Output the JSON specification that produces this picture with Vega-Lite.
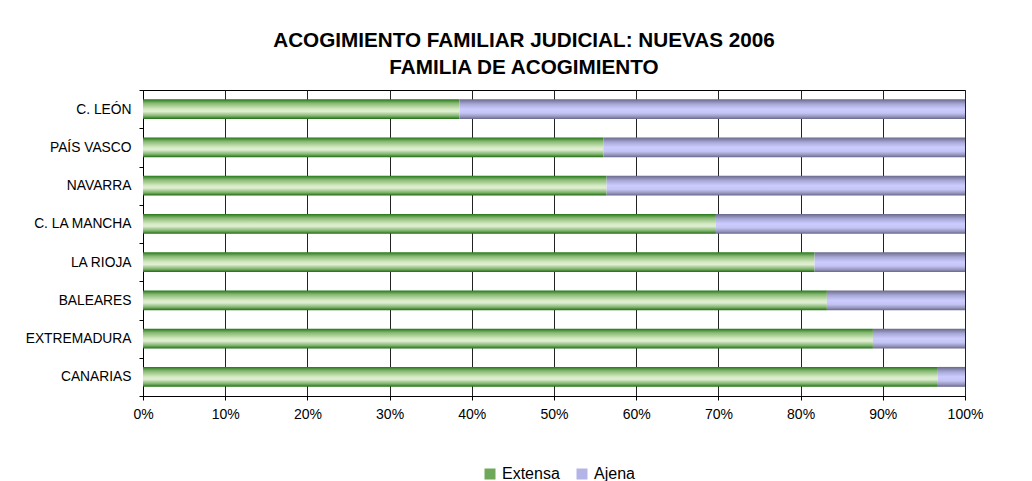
{
  "$schema": "https://vega.github.io/schema/vega-lite/v6.json",
  "width": 822,
  "height": 306,
  "autosize": "none",
  "padding": {"left": 143, "top": 90, "right": 67, "bottom": 85},
  "background": "white",
  "title": {
    "text": ["ACOGIMIENTO FAMILIAR JUDICIAL: NUEVAS 2006", "FAMILIA DE ACOGIMIENTO"],
    "font": "Liberation Sans",
    "fontSize": 20.7,
    "fontWeight": "bold",
    "color": "#000",
    "lineHeight": 27,
    "anchor": "middle",
    "baseline": "bottom",
    "dx": -30,
    "offset": -16
  },
  "data": {
    "values": [
      {"region": "C. LEÓN", "series": "Extensa", "pct": 38.5},
      {"region": "C. LEÓN", "series": "Ajena", "pct": 61.5},
      {"region": "PAÍS VASCO", "series": "Extensa", "pct": 56.0},
      {"region": "PAÍS VASCO", "series": "Ajena", "pct": 44.0},
      {"region": "NAVARRA", "series": "Extensa", "pct": 56.4},
      {"region": "NAVARRA", "series": "Ajena", "pct": 43.6},
      {"region": "C. LA MANCHA", "series": "Extensa", "pct": 69.7},
      {"region": "C. LA MANCHA", "series": "Ajena", "pct": 30.3},
      {"region": "LA RIOJA", "series": "Extensa", "pct": 81.7},
      {"region": "LA RIOJA", "series": "Ajena", "pct": 18.3},
      {"region": "BALEARES", "series": "Extensa", "pct": 83.2},
      {"region": "BALEARES", "series": "Ajena", "pct": 16.8},
      {"region": "EXTREMADURA", "series": "Extensa", "pct": 88.8},
      {"region": "EXTREMADURA", "series": "Ajena", "pct": 11.2},
      {"region": "CANARIAS", "series": "Extensa", "pct": 96.7},
      {"region": "CANARIAS", "series": "Ajena", "pct": 3.3}
    ]
  },
  "transform": [
    {"stack": "pct", "groupby": ["region"], "sort": [{"field": "series", "order": "descending"}], "offset": "normalize", "as": ["x0", "x1"]}
  ],
  "encoding": {
    "y": {
      "field": "region",
      "type": "nominal",
      "sort": ["C. LEÓN", "PAÍS VASCO", "NAVARRA", "C. LA MANCHA", "LA RIOJA", "BALEARES", "EXTREMADURA", "CANARIAS"],
      "scale": {"paddingInner": 0, "paddingOuter": 0},
      "axis": {
        "title": null,
        "tickBand": "extent",
        "tickSize": 4,
        "tickColor": "#000",
        "domainColor": "#000",
        "labelFont": "Liberation Sans",
        "labelFontSize": 13.8,
        "labelColor": "#000",
        "labelPadding": 8,
        "grid": false
      }
    },
    "x": {
      "field": "x0",
      "type": "quantitative",
      "scale": {"domain": [0, 1], "nice": false},
      "axis": {
        "title": null,
        "format": ".0%",
        "values": [0, 0.1, 0.2, 0.3, 0.4, 0.5, 0.6, 0.7, 0.8, 0.9, 1],
        "grid": true,
        "gridColor": "#222",
        "gridOpacity": 1,
        "tickSize": 4,
        "tickColor": "#000",
        "domainColor": "#000",
        "labelFont": "Liberation Sans",
        "labelFontSize": 14,
        "labelColor": "#000",
        "labelPadding": 7,
        "labelFlush": false
      }
    },
    "x2": {"field": "x1"}
  },
  "layer": [
    {
      "transform": [{"filter": "datum.series === 'Extensa'"}],
      "mark": {
        "type": "bar",
        "height": {"band": 0.52},
        "color": {"gradient": "linear", "x1": 0, "y1": 0, "x2": 0, "y2": 1, "stops": [
          {"offset": 0, "color": "#237418"},
          {"offset": 0.2, "color": "#86b871"},
          {"offset": 0.5, "color": "#d6eac4"},
          {"offset": 0.62, "color": "#e0efd4"},
          {"offset": 0.85, "color": "#7db268"},
          {"offset": 1, "color": "#1c6a12"}
        ]}
      }
    },
    {
      "transform": [{"filter": "datum.series === 'Ajena'"}],
      "mark": {
        "type": "bar",
        "height": {"band": 0.52},
        "color": {"gradient": "linear", "x1": 0, "y1": 0, "x2": 0, "y2": 1, "stops": [
          {"offset": 0, "color": "#68688a"},
          {"offset": 0.25, "color": "#a9a9d8"},
          {"offset": 0.5, "color": "#ccccff"},
          {"offset": 0.7, "color": "#c4c4f4"},
          {"offset": 0.88, "color": "#9494bc"},
          {"offset": 1, "color": "#66668a"}
        ]}
      }
    },
    {
      "mark": {"type": "bar", "height": {"band": 0.52}, "opacity": 0},
      "encoding": {
        "color": {
          "field": "series",
          "type": "nominal",
          "scale": {"domain": ["Extensa", "Ajena"], "range": ["#6fa85a", "#b4b4e6"]},
          "legend": {
            "orient": "none",
            "legendX": 339,
            "legendY": 376,
            "direction": "horizontal",
            "title": null,
            "symbolType": "square",
            "symbolSize": 121,
            "symbolStrokeWidth": 0,
            "symbolOpacity": 1,
            "labelFont": "Liberation Sans",
            "labelFontSize": 16,
            "labelColor": "#000",
            "labelOffset": 4,
            "columnPadding": 14
          }
        }
      }
    }
  ],
  "config": {"view": {"stroke": "#000", "strokeWidth": 1}}
}
